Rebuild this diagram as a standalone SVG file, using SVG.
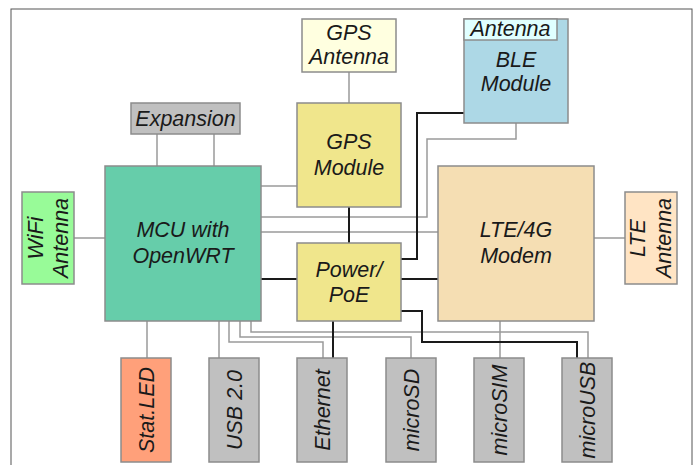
<svg xmlns="http://www.w3.org/2000/svg" width="698" height="465" viewBox="0 0 698 465">
<style>
.box{stroke:#8c8c8c;stroke-width:1.5}
.t{font-family:"Liberation Sans",Arial,sans-serif;font-style:italic;font-size:21.5px;fill:#1a1a1a;text-anchor:middle}
.g{fill:none;stroke:#9a9a9a;stroke-width:1.5}
.k{fill:none;stroke:#1a1a1a;stroke-width:2}
</style>
<rect x="0" y="0" width="698" height="465" fill="#fff"/>
<rect x="11" y="9" width="681" height="470" fill="none" stroke="#555" stroke-width="1"/>
<g id="connectors">
<path class="g" d="M349 72V103"/>
<path class="g" d="M157 134V166M214 134V166"/>
<path class="g" d="M261 186H297"/>
<path class="g" d="M74 238H105"/>
<path class="g" d="M261 217H427V139H516V123"/>
<path class="g" d="M261 232H438"/>
<path class="g" d="M594 238H625"/>
<path class="g" d="M147 321V358"/>
<path class="g" d="M219 321V358"/>
<path class="g" d="M229 321V342H323V358"/>
<path class="g" d="M240 321V337H411V358"/>
<path class="g" d="M251 321V332H588V358"/>
<path class="g" d="M500 321V358"/>
<path class="k" d="M464 113H417V259H401"/>
<path class="k" d="M349 207V243"/>
<path class="k" d="M261 279H297"/>
<path class="k" d="M401 279H438"/>
<path class="k" d="M401 311H422V342H577V358"/>
<path class="k" d="M333 321V358"/>
</g>
<g id="gps-antenna"><rect class="box" x="302" y="19" width="94" height="53" fill="#ffffe0"/><text class="t" x="349" y="40">GPS</text><text class="t" x="349" y="64">Antenna</text></g>
<g id="expansion"><rect class="box" x="131" y="103" width="109" height="31" fill="#c0c0c0"/><text class="t" x="185.5" y="126">Expansion</text></g>
<g id="gps-module"><rect class="box" x="297" y="103" width="104" height="104" fill="#f0e68c"/><text class="t" x="349" y="149">GPS</text><text class="t" x="349" y="175">Module</text></g>
<g id="ble-module"><rect class="box" x="464" y="19" width="104" height="104" fill="#add8e6"/><rect class="box" x="464" y="19" width="93" height="21" fill="#e0ffff"/><text class="t" x="510.5" y="36">Antenna</text><text class="t" x="516" y="67">BLE</text><text class="t" x="516" y="91">Module</text></g>
<g id="wifi-antenna"><rect class="box" x="22" y="192" width="52" height="92" fill="#98fb98"/><text class="t" transform="translate(43 238) rotate(-90)">WiFi</text><text class="t" transform="translate(68 238) rotate(-90)">Antenna</text></g>
<g id="mcu"><rect class="box" x="105" y="166" width="156" height="155" fill="#66cdaa"/><text class="t" x="183" y="237">MCU with</text><text class="t" x="183" y="263">OpenWRT</text></g>
<g id="power"><rect class="box" x="297" y="243" width="104" height="78" fill="#f0e68c"/><text class="t" x="349" y="277">Power/</text><text class="t" x="349" y="302">PoE</text></g>
<g id="lte-modem"><rect class="box" x="438" y="166" width="156" height="155" fill="#f5deb3"/><text class="t" x="516" y="237">LTE/4G</text><text class="t" x="516" y="263">Modem</text></g>
<g id="lte-antenna"><rect class="box" x="625" y="192" width="52" height="92" fill="#ffe4c4"/><text class="t" transform="translate(645 238) rotate(-90)">LTE</text><text class="t" transform="translate(671 238) rotate(-90)">Antenna</text></g>
<g id="stat-led"><rect class="box" x="121" y="358" width="50" height="104" fill="#ffa07a"/><text class="t" transform="translate(154 410) rotate(-90)">Stat.LED</text></g>
<g id="usb"><rect class="box" x="209" y="358" width="50" height="104" fill="#c0c0c0"/><text class="t" transform="translate(242 410) rotate(-90)">USB 2.0</text></g>
<g id="ethernet"><rect class="box" x="297" y="358" width="50" height="104" fill="#c0c0c0"/><text class="t" transform="translate(330 410) rotate(-90)">Ethernet</text></g>
<g id="microsd"><rect class="box" x="386" y="358" width="50" height="104" fill="#c0c0c0"/><text class="t" transform="translate(419 410) rotate(-90)">microSD</text></g>
<g id="microsim"><rect class="box" x="474" y="358" width="50" height="104" fill="#c0c0c0"/><text class="t" transform="translate(507 410) rotate(-90)">microSIM</text></g>
<g id="microusb"><rect class="box" x="562" y="358" width="50" height="104" fill="#c0c0c0"/><text class="t" transform="translate(595 410) rotate(-90)">microUSB</text></g>
</svg>
